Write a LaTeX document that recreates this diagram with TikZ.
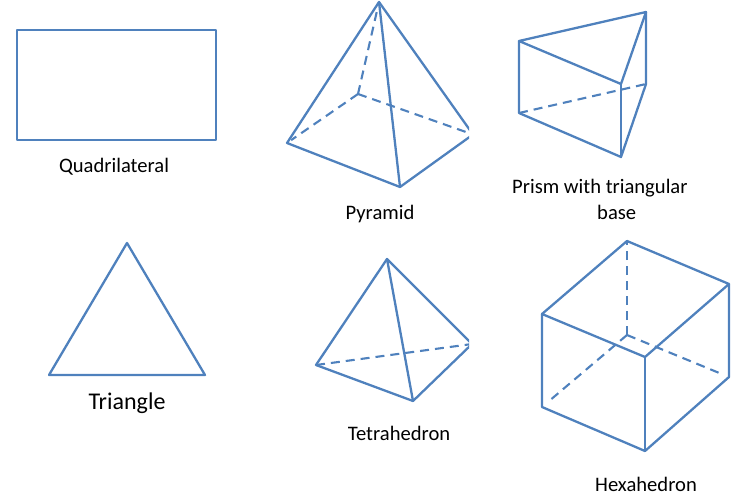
\documentclass[tikz,border=0pt]{standalone}
\usepackage{fontspec}
\setmainfont{Carlito}
\definecolor{edgeblue}{HTML}{4F81BD}
\tikzset{
  edge/.style = {edgeblue, line width = 2.3pt, line join = round},
  hidden/.style = {edge, line width = 2.1pt, dash pattern = on 9pt off 6pt},
  caption/.style = {font = \fontsize{20.6}{26}\selectfont, inner sep = 0pt}
}
\newcommand{\hiddenlines}[2]{\foreach \a/\b in {#2} {\draw[hidden, #1] (\a) -- (\b);}}

\begin{document}
\begin{tikzpicture}[x = 1pt, y = -1pt]
\useasboundingbox (0,0) rectangle (735,497);
% flat shapes
\draw[edge] (17,30) rectangle (216,140);
\node[caption] (quadlabel) at (114,166.500) {Quadrilateral};
\coordinate (ta) at (127,243);
\coordinate (tb) at (49,375);
\coordinate (tc) at (205,375);
\draw[edge] (ta) -- (tb) -- (tc) -- cycle;
\node[caption, font = \fontsize{24}{28}\selectfont] (trilabel) at (127,403) {Triangle};
% pyramid
\begin{scope}
\clip (270,0) rectangle (469,200);
\coordinate (pa) at (379,2);
\coordinate (pl) at (287,143);
\coordinate (pf) at (400,187);
\coordinate (pr) at (473,134.500);
\coordinate (pb) at (358,94);
\draw[edge] (pl) -- (pa) -- (pr) -- (pf) -- cycle;
\draw[edge] (pa) -- (pf);
\hiddenlines{shorten > = 5pt}{pb/pa, pb/pl}
\hiddenlines{}{pb/pr}
\end{scope}
\node[caption] (pyrlabel) at (380,214) {Pyramid};
% prism
\coordinate (qa) at (519,41);
\coordinate (qb) at (646,12);
\coordinate (qc) at (621,84);
\coordinate (qd) at (519,113);
\coordinate (qe) at (621,157);
\coordinate (qf) at (646,84);
\draw[edge] (qa) -- (qb) -- (qc) -- cycle;
\draw[edge] (qa) -- (qd) -- (qe) -- (qf) -- (qb);
\draw[edge] (qc) -- (qe);
\hiddenlines{}{qd/qf}
\node[caption, anchor = north west, align = left] (prismlabel) at (512,179)
  {Prism with triangular\\\hspace*{85pt}base};
% tetrahedron
\begin{scope}
\clip (300,240) rectangle (469,420);
\coordinate (ra) at (387,259);
\coordinate (rl) at (316,365);
\coordinate (rf) at (413,401);
\coordinate (rr) at (472,344);
\draw[edge] (ra) -- (rl) -- (rf) -- (rr) -- cycle;
\draw[edge] (ra) -- (rf);
\hiddenlines{}{rl/rr}
\end{scope}
\node[caption] (tetlabel) at (399,433) {Tetrahedron};
% hexahedron
\coordinate (ha) at (627,241);
\coordinate (hb) at (729,284);
\coordinate (hc) at (645,357);
\coordinate (hd) at (542,314);
\coordinate (he) at (645,451);
\coordinate (hf) at (542,407);
\coordinate (hg) at (729,377);
\coordinate (hh) at (627,335);
\draw[edge] (ha) -- (hb) -- (hc) -- (hd) -- cycle;
\draw[edge] (hd) -- (hf) -- (he) -- (hg) -- (hb);
\draw[edge] (hc) -- (he);
\hiddenlines{}{hh/ha}
\hiddenlines{shorten > = 7pt}{hh/hf, hh/hg}
\node[caption] (hexlabel) at (646,484) {Hexahedron};
\end{tikzpicture}
\end{document}
